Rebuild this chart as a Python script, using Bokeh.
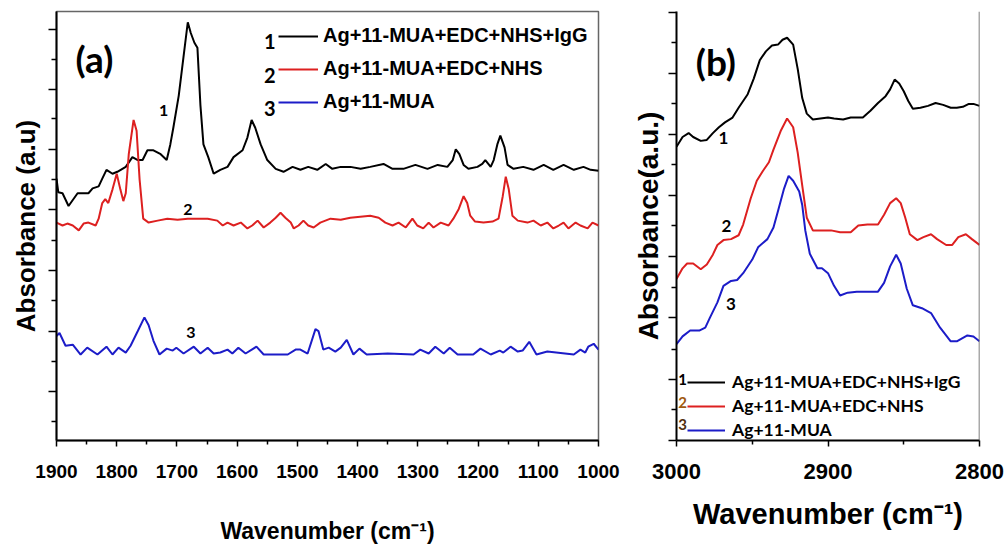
from bokeh.plotting import figure
from bokeh.models import Range1d, FixedTicker, CustomJSTickFormatter, Legend, LegendItem, Label, Span, Title
from bokeh.layouts import row
from bokeh.embed import file_html
from bokeh.resources import INLINE

# ---------------- data : panel (a) 1900-1000 cm-1 ----------------
wn_a_black = [1900, 1897, 1890, 1880, 1865, 1847, 1840, 1830, 1824, 1817, 1807, 1799, 1785, 1774, 1765,
              1757, 1749, 1739, 1727, 1717, 1711, 1706, 1697, 1689, 1682, 1677, 1671, 1666, 1661, 1656,
              1648, 1639, 1628, 1616, 1606, 1591, 1583, 1576, 1570, 1561, 1550, 1536, 1523, 1508, 1495,
              1482, 1467, 1453, 1442, 1428, 1412, 1395, 1379, 1357, 1342, 1324, 1304, 1284, 1267, 1251,
              1242, 1237, 1231, 1224, 1216, 1201, 1193, 1188, 1179, 1174, 1168, 1163, 1156, 1151, 1141,
              1125, 1108, 1091, 1075, 1058, 1041, 1025, 1013, 1000]
abs_a_black = [2.68, 2.54, 2.53, 2.40, 2.53, 2.53, 2.58, 2.60, 2.68, 2.77, 2.73, 2.75, 2.80, 2.90, 2.87,
               2.87, 2.97, 2.97, 2.93, 2.87, 3.03, 3.20, 3.53, 3.93, 4.28, 4.17, 4.07, 4.02, 3.43, 3.03,
               2.90, 2.73, 2.77, 2.80, 2.90, 2.97, 3.10, 3.28, 3.20, 3.03, 2.87, 2.78, 2.75, 2.80, 2.77,
               2.80, 2.77, 2.83, 2.78, 2.80, 2.80, 2.78, 2.80, 2.83, 2.78, 2.78, 2.82, 2.78, 2.82, 2.80,
               2.87, 2.98, 2.93, 2.82, 2.78, 2.80, 2.83, 2.87, 2.80, 2.87, 3.03, 3.12, 3.00, 2.82, 2.78,
               2.80, 2.77, 2.82, 2.77, 2.82, 2.77, 2.80, 2.77, 2.76]

wn_a_red = [1900, 1890, 1882, 1873, 1863, 1855, 1847, 1835, 1830, 1824, 1819, 1814, 1807, 1800, 1794,
            1789, 1785, 1780, 1772, 1767, 1762, 1756, 1747, 1732, 1716, 1699, 1682, 1666, 1649, 1633,
            1624, 1616, 1606, 1594, 1583, 1575, 1566, 1556, 1545, 1536, 1528, 1520, 1511, 1506, 1498,
            1490, 1482, 1473, 1462, 1445, 1428, 1412, 1379, 1365, 1354, 1342, 1332, 1320, 1309, 1301,
            1291, 1282, 1274, 1262, 1249, 1241, 1232, 1224, 1218, 1213, 1205, 1191, 1176, 1166, 1159,
            1154, 1149, 1143, 1134, 1118, 1108, 1096, 1085, 1075, 1066, 1058, 1050, 1038, 1030, 1018,
            1010, 1000]
abs_a_red = [2.23, 2.20, 2.22, 2.20, 2.15, 2.22, 2.23, 2.20, 2.27, 2.43, 2.47, 2.43, 2.57, 2.73, 2.57,
             2.45, 2.53, 2.93, 3.28, 3.17, 2.67, 2.27, 2.23, 2.25, 2.27, 2.26, 2.27, 2.27, 2.27, 2.25,
             2.20, 2.23, 2.20, 2.23, 2.17, 2.20, 2.25, 2.18, 2.23, 2.28, 2.33, 2.28, 2.23, 2.17, 2.20,
             2.25, 2.20, 2.18, 2.23, 2.27, 2.26, 2.28, 2.30, 2.28, 2.23, 2.20, 2.23, 2.18, 2.27, 2.20,
             2.17, 2.23, 2.18, 2.23, 2.20, 2.27, 2.37, 2.50, 2.43, 2.30, 2.24, 2.23, 2.24, 2.27, 2.50,
             2.70, 2.57, 2.30, 2.25, 2.23, 2.25, 2.20, 2.23, 2.17, 2.20, 2.23, 2.17, 2.23, 2.20, 2.17,
             2.23, 2.20]

wn_a_blue = [1900, 1895, 1885, 1873, 1860, 1849, 1832, 1817, 1807, 1797, 1785, 1777, 1765, 1754, 1747,
             1739, 1729, 1717, 1707, 1701, 1689, 1672, 1661, 1649, 1639, 1628, 1616, 1608, 1598, 1586,
             1568, 1556, 1516, 1503, 1495, 1483, 1470, 1465, 1457, 1448, 1437, 1428, 1418, 1407, 1397,
             1385, 1350, 1307, 1296, 1282, 1271, 1257, 1247, 1234, 1208, 1196, 1179, 1164, 1158, 1146,
             1134, 1126, 1115, 1103, 1085, 1041, 1030, 1022, 1017, 1008, 1000]
abs_a_blue = [1.07, 1.10, 0.97, 0.98, 0.88, 0.95, 0.88, 0.96, 0.88, 0.95, 0.90, 0.97, 1.12, 1.26, 1.18,
              1.02, 0.88, 0.94, 0.92, 0.95, 0.89, 0.96, 0.89, 0.95, 0.89, 0.90, 0.93, 0.89, 0.95, 0.89,
              0.96, 0.88, 0.88, 0.93, 0.93, 0.89, 1.14, 1.12, 0.93, 0.95, 0.91, 0.95, 1.03, 0.88, 0.94,
              0.88, 0.89, 0.88, 0.93, 0.89, 0.96, 0.89, 0.95, 0.88, 0.88, 0.94, 0.88, 0.92, 0.90, 0.96,
              0.91, 0.92, 1.01, 0.88, 0.91, 0.88, 0.93, 0.90, 0.96, 0.99, 0.93]

# ---------------- data : panel (b) 3000-2800 cm-1 ----------------
wn_b_black = [3000, 2996, 2992, 2989, 2984, 2980, 2976, 2972, 2968, 2963, 2959, 2953, 2949, 2945, 2941,
              2937, 2933, 2930, 2927, 2923, 2920, 2917, 2914, 2910, 2905, 2900, 2896, 2890, 2885, 2881,
              2877, 2872, 2867, 2862, 2859, 2856, 2853, 2850, 2847, 2844, 2839, 2834, 2829, 2824, 2819,
              2815, 2811, 2807, 2804, 2800]
abs_b_black = [3.02, 3.12, 3.16, 3.12, 3.08, 3.09, 3.16, 3.22, 3.27, 3.32, 3.42, 3.56, 3.72, 3.91, 4.00,
               4.06, 4.07, 4.12, 4.14, 4.07, 3.82, 3.52, 3.36, 3.30, 3.31, 3.32, 3.31, 3.30, 3.32, 3.32,
               3.32, 3.39, 3.47, 3.54, 3.61, 3.71, 3.67, 3.59, 3.49, 3.41, 3.42, 3.44, 3.47, 3.45, 3.42,
               3.42, 3.43, 3.46, 3.46, 3.44]

wn_b_red = [3000, 2996, 2993, 2989, 2984, 2980, 2976, 2973, 2969, 2964, 2959, 2956, 2951, 2947, 2943,
            2939, 2936, 2931, 2927, 2923, 2920, 2917, 2914, 2910, 2905, 2898, 2892, 2885, 2880, 2874,
            2867, 2863, 2859, 2855, 2852, 2849, 2846, 2841, 2837, 2832, 2828, 2822, 2818, 2814, 2809,
            2805, 2800]
abs_b_red = [1.66, 1.77, 1.82, 1.82, 1.76, 1.81, 1.91, 2.01, 2.06, 2.07, 2.11, 2.22, 2.49, 2.67, 2.77,
             2.86, 2.99, 3.19, 3.31, 3.22, 2.96, 2.62, 2.29, 2.16, 2.16, 2.16, 2.14, 2.14, 2.21, 2.22,
             2.22, 2.32, 2.44, 2.49, 2.44, 2.29, 2.12, 2.06, 2.09, 2.12, 2.07, 2.01, 2.01, 2.09, 2.12,
             2.07, 2.01]

wn_b_blue = [3000, 2996, 2991, 2985, 2981, 2978, 2973, 2969, 2964, 2960, 2956, 2950, 2946, 2940, 2936,
             2933, 2929, 2926, 2923, 2919, 2917, 2915, 2912, 2907, 2904, 2900, 2896, 2892, 2887, 2881,
             2874, 2867, 2863, 2859, 2855, 2852, 2848, 2844, 2838, 2832, 2826, 2819, 2815, 2808, 2804,
             2800]
abs_b_blue = [0.99, 1.07, 1.13, 1.13, 1.16, 1.26, 1.42, 1.59, 1.64, 1.65, 1.72, 1.86, 1.99, 2.07, 2.19,
              2.36, 2.59, 2.72, 2.67, 2.56, 2.42, 2.16, 1.92, 1.77, 1.77, 1.72, 1.59, 1.49, 1.52, 1.53,
              1.53, 1.53, 1.62, 1.79, 1.91, 1.82, 1.56, 1.39, 1.36, 1.31, 1.16, 1.02, 1.02, 1.08, 1.07,
              1.02]

series_labels = ["Ag+11-MUA+EDC+NHS+IgG", "Ag+11-MUA+EDC+NHS", "Ag+11-MUA"]
series_numbers = ["1", "2", "3"]
colors = ["#000000", "#dd2020", "#1c1cc8"]

x_ticks_a = [1900, 1800, 1700, 1600, 1500, 1400, 1300, 1200, 1100, 1000]
x_minor_a = [1850, 1750, 1650, 1550, 1450, 1350, 1250, 1150, 1050]
y_ticks_a = [0.50, 1.12, 1.74, 2.36, 2.98, 3.59, 4.21]
y_minor_a = [0.19, 0.81, 1.43, 2.05, 2.67, 3.29, 3.90]

x_ticks_b = [3000, 2900, 2800]
x_minor_b = [2950, 2850]
y_ticks_b = [0.00, 0.63, 1.26, 1.89, 2.52, 3.15, 3.77, 4.40]
y_minor_b = [0.32, 0.94, 1.57, 2.21, 2.84, 3.46, 4.09]

ARIAL = "'Liberation Sans', sans-serif"
HUMAN = "Lato, 'Open Sans', sans-serif"
XLABEL = "Wavenumber (cm\u207b\u00b9)"


def style_axes(p, tick_size, xlab, xlab_size, xticks, xminor, yticks, yminor, x_std, xlab_std):
    p.grid.visible = False
    p.background_fill_color = "white"
    p.border_fill_color = "white"
    xa = p.xaxis[0]
    xa.ticker = FixedTicker(ticks=xticks, minor_ticks=xminor)
    xa.axis_line_width = 2
    xa.axis_line_color = "black"
    xa.major_tick_in = 0
    xa.major_tick_out = 6
    xa.minor_tick_in = 0
    xa.minor_tick_out = 4
    xa.major_tick_line_width = 1.5
    xa.minor_tick_line_width = 1.5
    xa.major_tick_line_color = "black"
    xa.minor_tick_line_color = "black"
    xa.major_label_text_font = ARIAL
    xa.major_label_text_font_size = tick_size
    xa.major_label_text_font_style = "bold"
    xa.major_label_text_color = "black"
    xa.major_label_standoff = x_std
    xa.axis_label = xlab
    xa.axis_label_text_font = ARIAL
    xa.axis_label_text_font_size = xlab_size
    xa.axis_label_text_font_style = "bold"
    xa.axis_label_text_color = "black"
    xa.axis_label_standoff = xlab_std

    ya = p.yaxis[0]
    ya.ticker = FixedTicker(ticks=yticks, minor_ticks=yminor)
    ya.formatter = CustomJSTickFormatter(code="return ''")
    ya.axis_line_width = 2
    ya.axis_line_color = "black"
    ya.major_tick_in = 0
    ya.major_tick_out = 8
    ya.minor_tick_in = 0
    ya.minor_tick_out = 5
    ya.major_tick_line_width = 1.5
    ya.minor_tick_line_width = 1.5
    ya.major_tick_line_color = "black"
    ya.minor_tick_line_color = "black"
    ya.major_label_standoff = 0


# ---------------- panel (a) ----------------
pa = figure(width=620, height=546, x_range=Range1d(1900, 1000), y_range=Range1d(0, 4.39),
            output_backend="svg", toolbar_location=None,
            min_border_left=56, min_border_right=22, min_border_top=11, min_border_bottom=96)
pa.outline_line_color = "#666666"
pa.outline_line_width = 1.5
style_axes(pa, "19px", XLABEL, "23px", x_ticks_a, x_minor_a, y_ticks_a, y_minor_a, 18, 37)

ra = []
for wn, ab, c in zip([wn_a_black, wn_a_red, wn_a_blue], [abs_a_black, abs_a_red, abs_a_blue], colors):
    ra.append(pa.line(wn, ab, line_color=c, line_width=2))

# y-axis title on the left side panel
pa.add_layout(Title(text="Absorbance (a.u)", align="center", offset=8, standoff=16,
                    text_font=ARIAL, text_font_size="26px", text_font_style="bold",
                    text_color="black"), "left")

leg_a = Legend(items=[LegendItem(label=l, renderers=[r]) for l, r in zip(series_labels, ra)],
               location=(222, 327), glyph_width=40, glyph_height=20, label_standoff=5, spacing=10,
               padding=0, margin=0, border_line_alpha=0, background_fill_alpha=0,
               label_text_font=ARIAL, label_text_font_size="20px", label_text_font_style="bold",
               label_text_color="black")
pa.add_layout(leg_a)

for num, ypos in zip(series_numbers, [4.08, 3.74, 3.40]):
    pa.add_layout(Label(x=1546, y=ypos, text=num, text_font=HUMAN, text_font_size="20px",
                        text_font_style="bold", text_align="center", text_baseline="middle",
                        text_color="black"))
for num, xpos, ypos in zip(series_numbers, [1722, 1682, 1677], [3.38, 2.36, 1.11]):
    pa.add_layout(Label(x=xpos, y=ypos, text=num, text_font=HUMAN, text_font_size="16px",
                        text_font_style="bold", text_align="center", text_baseline="middle",
                        text_color="black"))
pa.add_layout(Label(x=1837, y=3.91, text="(a)", text_font=HUMAN, text_font_size="37px",
                    text_font_style="bold", text_align="center", text_baseline="middle",
                    text_color="black"))

# ---------------- panel (b) ----------------
pb = figure(width=385, height=546, x_range=Range1d(3000, 2800), y_range=Range1d(0, 4.41),
            output_backend="svg", toolbar_location=None,
            min_border_left=56, min_border_right=26, min_border_top=8, min_border_bottom=97)
pb.outline_line_color = None
style_axes(pb, "22px", XLABEL, "29px", x_ticks_b, x_minor_b, y_ticks_b, y_minor_b, 17, 16)
pb.add_layout(Span(location=2800, dimension="height", line_color="#555555", line_width=1.5))

rb = []
for wn, ab, c in zip([wn_b_black, wn_b_red, wn_b_blue], [abs_b_black, abs_b_red, abs_b_blue], colors):
    rb.append(pb.line(wn, ab, line_color=c, line_width=2))

pb.add_layout(Title(text="Absorbance(a.u.)", align="center", offset=42, standoff=10,
                    text_font=ARIAL, text_font_size="28px", text_font_style="bold",
                    text_color="black"), "left")

leg_b = Legend(items=[LegendItem(label=l, renderers=[r]) for l, r in zip(series_labels, rb)],
               location=(11, 0), glyph_width=38, glyph_height=20, label_standoff=7, spacing=3,
               padding=0, margin=0, border_line_alpha=0, background_fill_alpha=0,
               label_text_font=HUMAN, label_text_font_size="17.5px", label_text_font_style="bold",
               label_text_color="black")
pb.add_layout(leg_b)

for num, ypos, col in zip(series_numbers, [0.63, 0.39, 0.16], ["#000000", "#a05a10", "#503010"]):
    pb.add_layout(Label(x=2996, y=ypos, text=num, text_font=HUMAN, text_font_size="15px",
                        text_font_style="bold", text_align="center", text_baseline="middle",
                        text_color=col))
for num, xpos, ypos in zip(series_numbers, [2969, 2967, 2964], [3.11, 2.21, 1.40]):
    pb.add_layout(Label(x=xpos, y=ypos, text=num, text_font=HUMAN, text_font_size="17px",
                        text_font_style="bold", text_align="center", text_baseline="middle",
                        text_color="black"))
pb.add_layout(Label(x=2974, y=3.90, text="(b)", text_font=HUMAN, text_font_size="37px",
                    text_font_style="bold", text_align="center", text_baseline="middle",
                    text_color="black"))

layout = row(pa, pb)
open("out.html", "w").write(file_html(layout, INLINE))
